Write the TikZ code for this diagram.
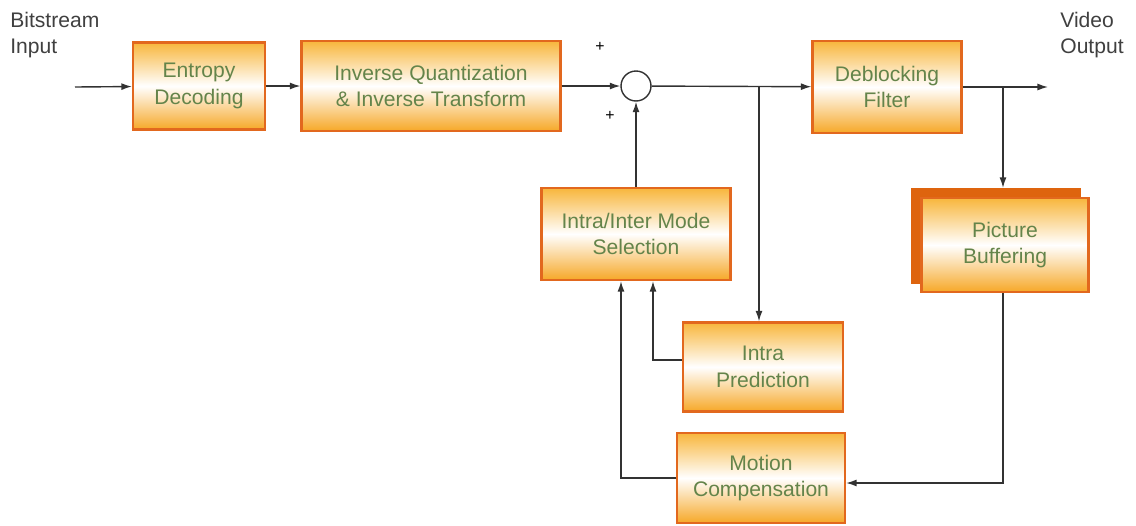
\documentclass[tikz,border=0pt]{standalone}
\usepackage{fontspec}
\setmainfont{Liberation Sans}
\usepackage{tikz}
\usetikzlibrary{arrows.meta}

\definecolor{boxtop}{RGB}{248,182,60}
\definecolor{boxbot}{RGB}{246,168,40}
\definecolor{boxline}{RGB}{226,104,30}
\definecolor{boxback}{RGB}{222,100,14}
\definecolor{boxtext}{RGB}{100,132,74}
\definecolor{wire}{RGB}{50,50,50}

\tikzset{
  block/.style={draw=boxline, line width=1.3pt, top color=boxtop, bottom color=boxbot,
    middle color=white, text=boxtext, align=center,
    font=\fontsize{12}{15}\selectfont},
  sumnode/.style={circle, draw=wire, line width=0.8pt, fill=white, minimum size=0.6cm, inner sep=0pt},
  wireto/.style={draw=wire, line width=0.8pt, -{Latex[length=6pt,width=4pt]}},
  plain/.style={draw=wire, line width=0.8pt},
  lbl/.style={text=black!75, align=left, font=\fontsize{12}{15}\selectfont}
}

\begin{document}
\begin{tikzpicture}[x=0.02cm, y=-0.02cm]
\useasboundingbox (0,0) rectangle (1136,525);

% blocks
\node[block, minimum width=2.64cm, minimum height=1.74cm] (ent) at (199,86) {Entropy\\Decoding};
\node[block, minimum width=5.18cm, minimum height=1.80cm] (iqt) at (431,86) {Inverse Quantization\\\& Inverse Transform};
\node[sumnode] (sum) at (636,86) {};
\node[block, minimum width=2.98cm, minimum height=1.84cm] (dbf) at (887,87) {Deblocking\\Filter};
\node[block, draw=boxback, fill=boxback, top color=boxback, bottom color=boxback, middle color=boxback,
      minimum width=3.34cm, minimum height=1.88cm] (pbs) at (996,236) {};
\node[block, minimum width=3.34cm, minimum height=1.88cm] (pbf) at (1005,245) {Picture\\Buffering};
\node[block, minimum width=3.78cm, minimum height=1.84cm] (ims) at (636,234) {Intra/Inter Mode\\Selection};
\node[block, minimum width=3.20cm, minimum height=1.78cm] (ipr) at (763,367) {Intra\\Prediction};
\node[block, minimum width=3.36cm, minimum height=1.80cm] (mcp) at (761,478) {Motion\\Compensation};

% texts
\node[lbl, anchor=north west, inner sep=0pt] (bin) at (10,12) {Bitstream\\Input};
\node[lbl, anchor=north west, inner sep=0pt] (vout) at (1060,12) {Video\\Output};
\node[font=\small] (pa) at (600,47) {+};
\node[font=\small] (pb) at (610,116) {+};

% connectors
\coordinate (in) at (75,87);
\coordinate (out) at (1048,87);
\coordinate (br1) at (759,86);
\coordinate (br2) at (1003,87);
\coordinate (lp) at (1003,483);
\draw[wireto] (in) -- (ent);
\draw[wireto] (ent) -- (iqt);
\draw[wireto] (iqt) -- (sum);
\draw[wireto] (sum) -- (dbf);
\draw[wireto] (dbf.east) -- (out);
\draw[wireto] (br1) -- (br1 |- ipr.north);
\draw[wireto] (br2) -- (br2 |- pbs.north);
\draw[wireto] (ims) -- (sum);
\draw[wireto] (br2 |- pbf.south) -- (lp) -- (lp -| mcp.east);
\draw[wireto] (mcp.west) -| ([xshift=-0.3cm]ims.south);
\draw[wireto] ([yshift=0.14cm]ipr.west) -| ([xshift=0.34cm]ims.south);
\end{tikzpicture}
\end{document}
